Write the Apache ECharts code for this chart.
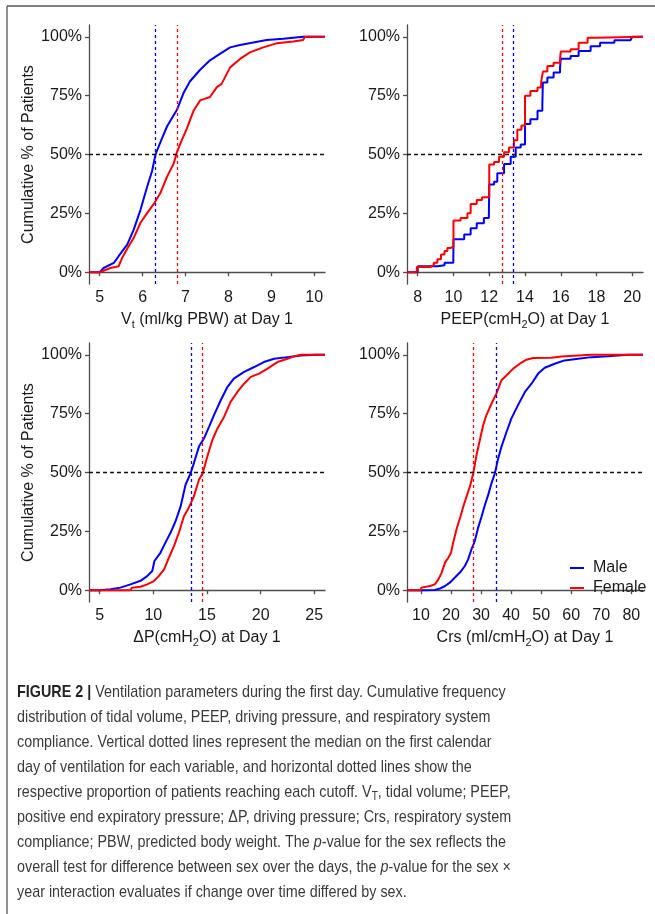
<!DOCTYPE html>
<html>
<head>
<meta charset="utf-8">
<script src="https://cdn.jsdelivr.net/npm/echarts@6/dist/echarts.min.js"></script>
<style>
  html, body { margin: 0; padding: 0; background: #fff; }
  #chart { width: 655px; height: 914px; }
</style>
</head>
<body>
<div id="chart"></div>
<script>
// tick labels
const pctTicks = [0, 25, 50, 75, 100]
const vtTicks = [5, 6, 7, 8, 9, 10]
const peepTicks = [8, 10, 12, 14, 16, 18, 20]
const dpTicks = [5, 10, 15, 20, 25]
const crsTicks = [10, 20, 30, 40, 50, 60, 70, 80]

// ECDF points [value, cumulative %]
const vtMale = [[4.75, 0], [5.0, 0], [5.09, 1.8], [5.33, 4], [5.44, 6.8], [5.64, 11.7], [5.79, 18], [5.95, 26.5],
  [6.1, 36], [6.22, 43], [6.3, 50], [6.41, 55], [6.57, 62], [6.8, 69], [6.95, 76], [7.1, 81], [7.34, 86],
  [7.57, 90], [7.8, 92.7], [8.04, 95.5], [8.27, 96.5], [8.58, 97.6], [8.89, 98.6], [9.28, 99.2], [9.74, 100], [10.25, 100]]
const vtFemale = [[4.75, 0], [5.0, 0], [5.25, 1.8], [5.44, 2.5], [5.52, 6], [5.64, 10], [5.79, 14.5], [5.95, 21],
  [6.1, 25], [6.26, 29], [6.41, 33.5], [6.57, 40.6], [6.72, 46], [6.8, 51], [6.91, 56], [7.03, 61], [7.19, 68.7],
  [7.34, 73], [7.57, 74.4], [7.73, 78.6], [7.84, 80], [8.04, 87], [8.27, 90.6], [8.5, 93.4], [8.81, 95.5],
  [9.12, 97.2], [9.51, 98], [9.74, 98.6], [9.78, 100], [10.25, 100]]

const peepMale = [[7.4, 0], [8.0, 2.5], [9.1, 3], [9.5, 4], [9.99, 5], [10.0, 14], [10.6, 16], [10.96, 18.7],
  [11.3, 20.8], [11.7, 23], [11.98, 25], [12.0, 37.3], [12.27, 38.4], [12.45, 42], [12.83, 46], [13.2, 49],
  [13.48, 53], [13.76, 54.3], [14.0, 63], [14.3, 65], [14.7, 68.6], [14.97, 71.4], [15.0, 80.6], [15.25, 82.7],
  [15.6, 84.8], [15.96, 87], [16.0, 90.7], [16.55, 91.8], [17.0, 94], [17.67, 96], [18.2, 97.5], [19.0, 98.5],
  [19.9, 99.3], [20.0, 100], [20.6, 100]]
const peepFemale = [[7.4, 0], [7.95, 2.2], [8.7, 3], [8.9, 4], [9.1, 5.5], [9.3, 7.5], [9.5, 9], [9.66, 10.3],
  [9.8, 10.7], [10.0, 22], [10.4, 23], [10.78, 25], [10.96, 29], [11.3, 30.7], [11.6, 31.8], [12.0, 45.7],
  [12.27, 46.8], [12.55, 49], [12.83, 51], [13.1, 53], [13.38, 56], [13.57, 60.5], [13.8, 62.3], [14.0, 75],
  [14.3, 77], [14.7, 78.5], [14.9, 80.6], [15.0, 85.2], [15.25, 87.6], [15.6, 89], [15.96, 90.4], [16.0, 93.7],
  [16.55, 94.7], [17.0, 97.5], [17.5, 99.6], [18.0, 100], [20.6, 100]]

const dpMale = [[4, 0], [5.0, 0], [6.0, 0.4], [6.93, 1.1], [7.87, 2.5], [8.8, 4], [9.42, 6], [9.9, 8.2],
  [10.1, 12.4], [10.67, 16], [11.1, 20], [11.6, 24.4], [12.07, 29.3], [12.54, 35.6], [13.0, 44.8], [13.47, 49.7],
  [13.78, 54], [14.25, 61], [14.72, 64.5], [15.19, 69.4], [15.65, 74.4], [16.28, 80.7], [16.9, 86.3],
  [17.5, 89.9], [18.46, 92.7], [19.4, 94.8], [20.3, 96.9], [21.26, 98.3], [22.5, 99], [23.75, 99.7], [25.1, 100], [26, 100]]
const dpFemale = [[4, 0], [7.87, 0], [8.0, 1.1], [8.8, 1.5], [9.42, 2.5], [10.05, 3.9], [10.5, 6], [11.0, 8.9],
  [11.45, 13.8], [11.92, 18.7], [12.38, 24.4], [12.85, 31.4], [13.3, 35], [13.78, 39.9], [14.25, 46.9],
  [14.6, 49.7], [15.03, 56.8], [15.5, 63.8], [15.97, 68.7], [16.6, 73.7], [17.2, 80], [17.83, 84.2],
  [18.46, 87.7], [19.08, 90.6], [19.86, 92], [20.64, 94.1], [21.57, 96.9], [22.5, 98.3], [23.1, 99.3], [23.75, 100], [26, 100]]

const crsMale = [[5.35, 0], [10.2, 0], [14.6, 0.1], [16.3, 0.7], [18, 1.8], [19.6, 3.2], [21.3, 5.4], [22.96, 7.5],
  [24.6, 10.3], [25.7, 13.1], [26.8, 17.3], [27.9, 20.8], [29.0, 26.5], [30.2, 31.4], [31.3, 36.3], [32.4, 40.6],
  [33.5, 45.5], [34.6, 49.7], [35.7, 56], [36.8, 61], [38.5, 67.3], [40.1, 73], [42.3, 78.6], [44.6, 84.2],
  [46.8, 87.7], [49.0, 92], [51.2, 94.5], [54.5, 96.2], [57.8, 97.6], [62.3, 98.3], [66.7, 99], [72.2, 99.4], [78.9, 100], [83.9, 100]]
const crsFemale = [[5.35, 0], [10, 0], [10.1, 1.1], [13, 1.8], [14.6, 2.5], [15.8, 4.6], [16.9, 7.5], [18, 11.7],
  [19.1, 13.8], [20, 15.9], [20.7, 20.1], [21.8, 25.8], [23, 30.7], [24.1, 35.6], [25.2, 39.9], [26.3, 44.1],
  [27.4, 49.7], [28.5, 57.5], [29.6, 63.8], [30.7, 70.1], [31.8, 74.4], [33.5, 79.3], [35.1, 83.5], [36.8, 89.2],
  [38.5, 91.3], [40.7, 94.1], [42.9, 96.2], [45.1, 97.9], [47.3, 98.6], [53.4, 98.7], [56.7, 99.3], [62.3, 99.7], [66.7, 100], [83.9, 100]]

// medians per panel (vt, peep, dp, crs)
const medianMale = [6.3, 13.32, 13.55, 35.0]
const medianFemale = [6.8, 12.75, 14.6, 27.3]

const captionLines = [
  '{b|FIGURE 2 |} Ventilation parameters during the first day. Cumulative frequency',
  'distribution of tidal volume, PEEP, driving pressure, and respiratory system',
  'compliance. Vertical dotted lines represent the median on the first calendar',
  'day of ventilation for each variable, and horizontal dotted lines show the',
  'respective proportion of patients reaching each cutoff. V{sub|T}, tidal volume; PEEP,',
  'positive end expiratory pressure; \u0394P, driving pressure; Crs, respiratory system',
  'compliance; PBW, predicted body weight. The {i|p}-value for the sex reflects the',
  'overall test for difference between sex over the days, the {i|p}-value for the sex \u00d7',
  'year interaction evaluates if change over time differed by sex.'
]

const BLUE = '#0000ff'
const RED = '#ff0000'
const axisColor = '#4d4d4d'
const font = "'Liberation Sans', Arial, sans-serif"

const panels = [
  { left: 89, top: 25, min: 4.75, max: 10.25, ticks: vtTicks, male: vtMale, female: vtFemale, step: false,
    name: '{n|V}{s|t}{n| (ml/kg PBW) at Day 1}', yName: true },
  { left: 407, top: 25, min: 7.4, max: 20.6, ticks: peepTicks, male: peepMale, female: peepFemale, step: 'end',
    name: '{n|PEEP(cmH}{s|2}{n|O) at Day 1}', yName: false },
  { left: 89, top: 343, min: 4, max: 26, ticks: dpTicks, male: dpMale, female: dpFemale, step: false,
    name: '{n|\u0394P(cmH}{s|2}{n|O) at Day 1}', yName: true },
  { left: 407, top: 343, min: 5.35, max: 83.9, ticks: crsTicks, male: crsMale, female: crsFemale, step: false,
    name: '{n|Crs (ml/cmH}{s|2}{n|O) at Day 1}', yName: false }
]

const nameRich = {
  n: { fontSize: 16, color: '#1a1a1a', fontFamily: font },
  s: { fontSize: 11, color: '#1a1a1a', fontFamily: font, padding: [10, 0, 0, 0] }
}
const axisLine = { show: true, lineStyle: { color: axisColor, width: 1.3 } }

const chart = echarts.init(document.getElementById('chart'))
const option = {
  animation: false,
  backgroundColor: '#fff',
  grid: panels.map(p => ({ left: p.left, top: p.top, width: 236, height: 259 })),
  xAxis: panels.map((p, i) => ({
    type: 'value',
    gridIndex: i,
    min: p.min,
    max: p.max,
    axisLine: axisLine,
    axisTick: { show: true, length: 4, customValues: p.ticks, lineStyle: { color: axisColor, width: 1.3 } },
    axisLabel: { customValues: p.ticks, margin: 6, color: '#1a1a1a', fontSize: 16, fontFamily: font },
    splitLine: { show: false },
    name: p.name,
    nameLocation: 'middle',
    nameGap: 25,
    nameTextStyle: { rich: nameRich }
  })),
  yAxis: panels.map((p, i) => ({
    type: 'value',
    gridIndex: i,
    min: -5,
    max: 105,
    axisLine: axisLine,
    axisTick: { show: true, length: 4, customValues: pctTicks, lineStyle: { color: axisColor, width: 1.3 } },
    axisLabel: { customValues: pctTicks, margin: 7, color: '#1a1a1a', fontSize: 16, fontFamily: font,
      formatter: v => v + '%' },
    splitLine: { show: false },
    name: p.yName ? 'Cumulative % of Patients' : '',
    nameLocation: 'middle',
    nameGap: 52,
    nameTextStyle: { color: '#1a1a1a', fontSize: 16, fontFamily: font }
  })),
  legend: {
    data: ['Male', 'Female'],
    orient: 'vertical',
    left: 570,
    top: 560,
    padding: 0,
    icon: 'rect',
    itemWidth: 14,
    itemHeight: 2,
    itemGap: 4,
    textStyle: { color: '#1a1a1a', fontSize: 16, fontFamily: font, padding: [0, 0, 0, 4] }
  },
  graphic: [
    { type: 'line', shape: { x1: 7, y1: 6, x2: 655, y2: 6 }, style: { stroke: '#555', lineWidth: 1.3 } },
    { type: 'line', shape: { x1: 7, y1: 6, x2: 7, y2: 914 }, style: { stroke: '#555', lineWidth: 1.3 } },
    {
      type: 'text', x: 17, y: 680, scaleX: 0.844,
      style: {
        text: captionLines.join('\n'),
        fontSize: 17, fontFamily: font, fill: '#3a3a3a', lineHeight: 25,
        rich: {
          b: { fontSize: 17, fontFamily: font, fontWeight: 'bold', fill: '#222', lineHeight: 25 },
          i: { fontSize: 17, fontFamily: font, fontStyle: 'italic', fill: '#3a3a3a', lineHeight: 25 },
          sub: { fontSize: 12, fontFamily: font, fill: '#3a3a3a', lineHeight: 25, padding: [8, 0, 0, 0] }
        }
      }
    }
  ],
  series: []
}

panels.forEach((p, i) => {
  option.series.push({
    name: 'Male', type: 'line', xAxisIndex: i, yAxisIndex: i, data: p.male,
    symbol: 'none', step: p.step, color: BLUE,
    lineStyle: { color: BLUE, width: 2 },
    markLine: {
      silent: true, symbol: 'none', label: { show: false },
      lineStyle: { color: BLUE, type: [3, 3], width: 1.3 },
      data: [{ xAxis: medianMale[i] }]
    }
  })
  option.series.push({
    name: 'Female', type: 'line', xAxisIndex: i, yAxisIndex: i, data: p.female,
    symbol: 'none', step: p.step, color: RED,
    lineStyle: { color: RED, width: 2 },
    markLine: {
      silent: true, symbol: 'none', label: { show: false },
      lineStyle: { color: RED, type: [3, 3], width: 1.3 },
      data: [
        { xAxis: medianFemale[i] },
        { yAxis: 50, lineStyle: { color: '#111', type: [4, 3], width: 1.3 } }
      ]
    }
  })
})

chart.setOption(option)
</script>
</body>
</html>
